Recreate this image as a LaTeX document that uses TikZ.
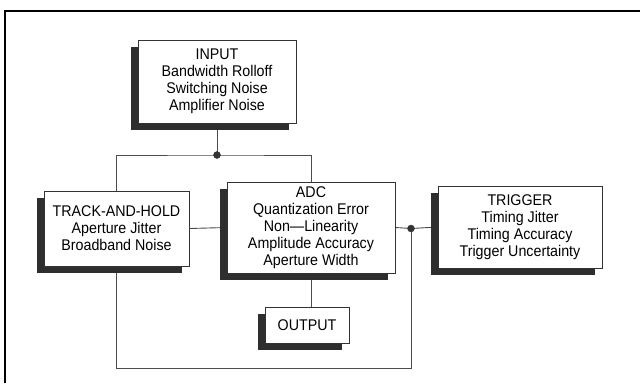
\documentclass[tikz,border=0pt]{standalone}
\usepackage{fontspec}
\setmainfont[FakeStretch=0.92]{Liberation Sans}
\usetikzlibrary{shadows,backgrounds}
\begin{document}
\begin{tikzpicture}[x=1pt,y=-1pt,
  blk/.style={draw=black!80,line width=0.8pt,fill=white,align=center,inner sep=0pt,
    font=\fontsize{15.5}{17}\selectfont,
    drop shadow={shadow xshift=-7pt,shadow yshift=-7pt,opacity=1,fill=black!82}},
  wire/.style={draw=black!70,line width=0.9pt},
  dot/.style={circle,fill=black!80,draw=black!80,inner sep=0pt,minimum size=7pt}]
\useasboundingbox (0,0) rectangle (640,383);
\draw[line width=2pt] (5,383) -- (5,11) -- (640,11);
\node[blk,minimum width=158pt,minimum height=83pt] (IN) at (217,81.5)
  {INPUT\\Bandwidth Rolloff\\Switching Noise\\Amplifier Noise};
\node[blk,minimum width=145pt,minimum height=75pt] (TH) at (116.5,228.5)
  {TRACK-AND-HOLD\\Aperture Jitter\\Broadband Noise};
\node[blk,minimum width=168pt,minimum height=91pt] (ADC) at (311,227.5)
  {ADC\\Quantization Error\\Non---Linearity\\Amplitude Accuracy\\Aperture Width};
\node[blk,minimum width=164pt,minimum height=82pt] (TRIG) at (520,227)
  {TRIGGER\\Timing Jitter\\Timing Accuracy\\Trigger Uncertainty};
\node[blk,minimum width=84pt,minimum height=36pt] (OUT) at (307,325) {OUTPUT};
\node[dot] (j1) at (217,155) {};
\node[dot] (j2) at (411,228.5) {};
\coordinate (b) at (411,368);
\begin{scope}[on background layer]
\draw[wire] (IN.south) -- (j1.center);
\draw[wire] (TH.north) |- (j1.center) -| (ADC.north);
\draw[wire] (TH.east) -- (ADC.west);
\draw[wire] (ADC.east) -- (j2.center) -- (TRIG.west);
\draw[wire] (j2.center) -- (b) -| (TH.south);
\draw[wire] (ADC.south) -- (ADC.south |- OUT.north);
\end{scope}
\end{tikzpicture}
\end{document}
